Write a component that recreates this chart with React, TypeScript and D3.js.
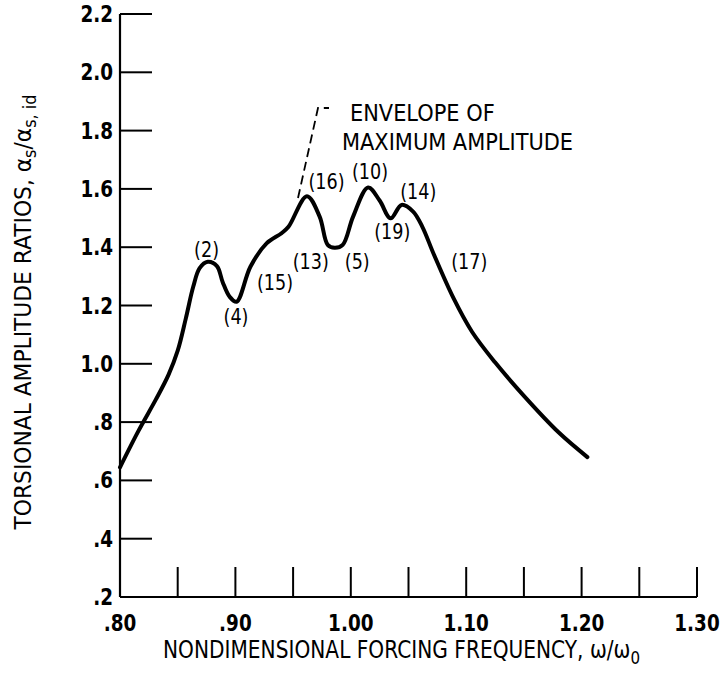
import React from "react";
import * as d3 from "d3";

const freq = [0.80, 0.816, 0.831, 0.842, 0.850, 0.857, 0.8635, 0.869, 0.876, 0.884, 0.889, 0.895, 0.901, 0.913, 0.927, 0.940, 0.946, 0.962, 0.973, 0.980, 0.986, 0.993, 1.002, 1.015, 1.025, 1.0345, 1.044, 1.054, 1.062, 1.072, 1.089, 1.105, 1.125, 1.150, 1.180, 1.205];
const ratio = [0.645, 0.77, 0.877, 0.962, 1.045, 1.155, 1.265, 1.328, 1.35, 1.335, 1.28, 1.23, 1.213, 1.333, 1.413, 1.448, 1.47, 1.575, 1.505, 1.408, 1.398, 1.408, 1.505, 1.605, 1.56, 1.499, 1.545, 1.522, 1.47, 1.375, 1.225, 1.11, 1.005, 0.89, 0.765, 0.68];

const xTickValues = [0.85, 0.90, 0.95, 1.00, 1.05, 1.10, 1.15, 1.20, 1.25, 1.30];
const xLabelValues = [0.80, 0.90, 1.00, 1.10, 1.20, 1.30];
const xLabelTexts = [".80", ".90", "1.00", "1.10", "1.20", "1.30"];
const yTickValues = [0.4, 0.6, 0.8, 1.0, 1.2, 1.4, 1.6, 1.8, 2.0, 2.2];
const yLabelValues = [0.2, 0.4, 0.6, 0.8, 1.0, 1.2, 1.4, 1.6, 1.8, 2.0, 2.2];
const yLabelTexts = [".2", ".4", ".6", ".8", "1.0", "1.2", "1.4", "1.6", "1.8", "2.0", "2.2"];

const peakLabels = ["(2)", "(4)", "(15)", "(13)", "(16)", "(10)", "(5)", "(19)", "(14)", "(17)"];
const peakLabelX = [0.875, 0.9005, 0.9343, 0.9653, 0.979, 1.0166, 1.0056, 1.0359, 1.0585, 1.1026];
const peakLabelY = [1.366, 1.1376, 1.252, 1.326, 1.601, 1.635, 1.326, 1.429, 1.566, 1.326];

const FONT = "'DejaVu Sans', sans-serif";
const SQ = 0.8;

export default function App() {
  const x = d3.scaleLinear().domain([0.8, 1.3]).range([120, 697]);
  const y = d3.scaleLinear().domain([0.2, 2.2]).range([597, 14]);
  const pts: [number, number][] = freq.map((f, i) => [x(f), y(ratio[i])]);
  const line = d3.line().curve(d3.curveCatmullRom.alpha(0.5))(pts) || "";

  return (
    <svg width={722} height={675} style={{ position: "absolute", left: 0, top: 0, background: "#fff" }} fontFamily={FONT}>
      <rect width={722} height={675} fill="#fff" />
      {/* axes */}
      <line x1={x(0.8)} y1={y(2.2)} x2={x(0.8)} y2={y(0.2)} stroke="#000" strokeWidth={2.2} />
      <line x1={x(0.8)} y1={y(0.2)} x2={x(1.3)} y2={y(0.2)} stroke="#000" strokeWidth={2.2} />
      {yTickValues.map((v) => (
        <line key={"yt" + v} x1={x(0.8)} x2={x(0.8) + 32} y1={y(v)} y2={y(v)} stroke="#000" strokeWidth={2} />
      ))}
      {xTickValues.map((v) => (
        <line key={"xt" + v} x1={x(v)} x2={x(v)} y1={y(0.2)} y2={y(0.2) - 30} stroke="#000" strokeWidth={2} />
      ))}
      {yLabelValues.map((v, i) => (
        <text key={"yl" + v} transform={`translate(${x(0.8) - 7},${y(v) + 8}) scale(${SQ},1)`} textAnchor="end" fontSize={23} fontWeight="bold">
          {yLabelTexts[i]}
        </text>
      ))}
      {xLabelValues.map((v, i) => (
        <text key={"xl" + v} transform={`translate(${x(v)},631) scale(${SQ},1)`} textAnchor="middle" fontSize={23} fontWeight="bold">
          {xLabelTexts[i]}
        </text>
      ))}
      {/* axis titles */}
      <text transform="translate(163,658) scale(0.84,1)" fontSize={24}>
        NONDIMENSIONAL FORCING FREQUENCY, ω/ω<tspan dy={6} fontSize={18}>0</tspan>
      </text>
      <text transform="translate(31,312) rotate(-90)" textAnchor="middle" fontSize={23} textLength={435} lengthAdjust="spacingAndGlyphs">
        TORSIONAL AMPLITUDE RATIOS, α<tspan dy={5} fontSize={17}>s</tspan>
        <tspan dy={-5}>/α</tspan>
        <tspan dy={5} fontSize={17}>s, id</tspan>
      </text>
      {/* curve */}
      <path d={line} fill="none" stroke="#000" strokeWidth={4} strokeLinejoin="round" strokeLinecap="round" />
      {/* peak labels */}
      {peakLabels.map((t, i) => (
        <text key={t} transform={`translate(${x(peakLabelX[i])},${y(peakLabelY[i])}) scale(${SQ},1)`} textAnchor="middle" fontSize={22}>
          {t}
        </text>
      ))}
      {/* annotation */}
      <path d="M298,198 L318,108 L329,108" fill="none" stroke="#000" strokeWidth={1.8} strokeDasharray="9,5" />
      <text transform="translate(350,121) scale(0.91,1)" fontSize={23}>ENVELOPE OF</text>
      <text transform="translate(342,150) scale(0.91,1)" fontSize={23}>MAXIMUM AMPLITUDE</text>
    </svg>
  );
}
